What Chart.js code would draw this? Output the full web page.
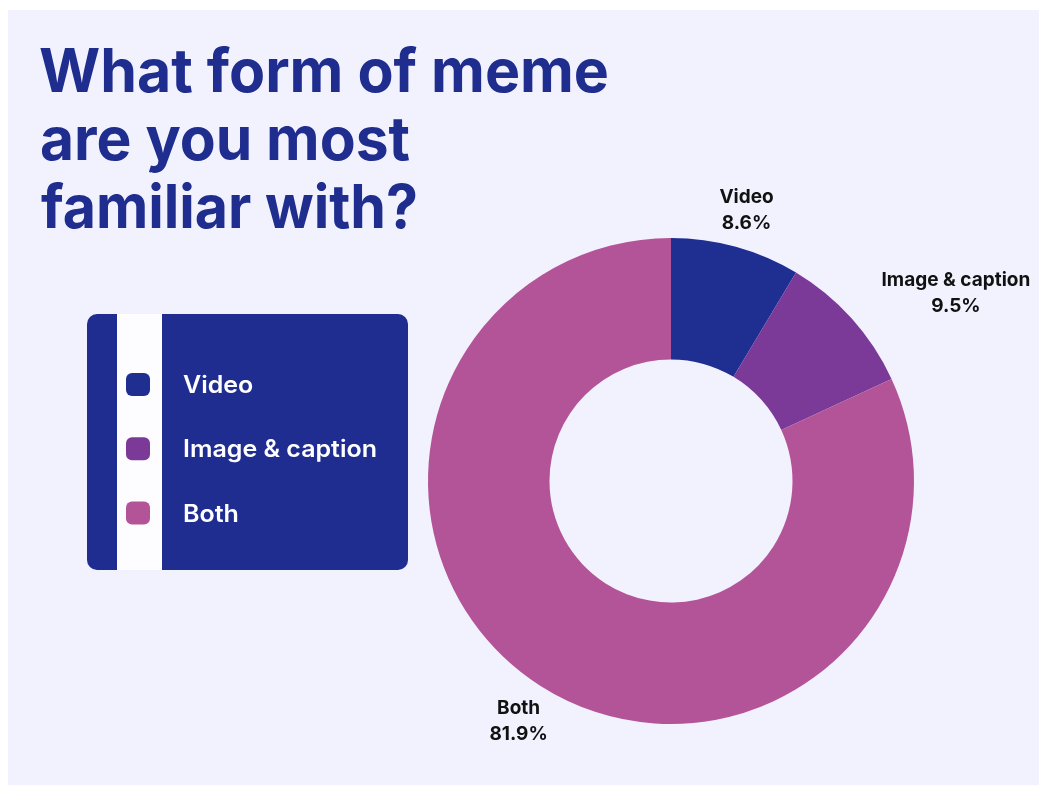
<!DOCTYPE html>
<html>
<head>
<meta charset="utf-8">
<script src="https://cdn.jsdelivr.net/npm/chart.js@4.4.1/dist/chart.umd.min.js"></script>
<style>
  html, body { margin: 0; padding: 0; background: #ffffff; }
  #wrap { position: relative; width: 1040px; height: 785px; }
  canvas { display: block; }
</style>
</head>
<body>
<div id="wrap"><canvas id="meme" width="1040" height="785"></canvas></div>
<script>
// Survey answers: which form of meme people know best
const categories = ['Video', 'Image & caption', 'Both'];
const shares = [8.6, 9.5, 81.9];
const sliceColors = ['#1f2e91', '#7b3a98', '#b45498'];
const titleLines = ['What form of meme', 'are you most', 'familiar with?'];

const INK = '#1f2d8f';
const PANEL = '#f2f2fe';

// Headline layout: left edge, baseline and span of each line
const titleLayout = [
  { x: 39, y: 92, w: 570 },
  { x: 40, y: 160, w: 370 },
  { x: 41, y: 228, w: 377 }
];

// Draws text squeezed/stretched horizontally so that it spans `width` pixels
function fillFitted(ctx, text, x, y, width) {
  const w = ctx.measureText(text).width;
  ctx.save();
  ctx.translate(x, y);
  ctx.scale(width / w, 1);
  ctx.fillText(text, 0, 0);
  ctx.restore();
}

// Page background, headline and the side legend card
const backdrop = {
  id: 'backdrop',
  beforeDraw(chart) {
    const ctx = chart.ctx;
    ctx.save();
    ctx.fillStyle = '#ffffff';
    ctx.fillRect(0, 0, chart.width, chart.height);
    ctx.fillStyle = PANEL;
    ctx.fillRect(8, 10, 1031, 775);

    // headline
    ctx.fillStyle = INK;
    ctx.textBaseline = 'alphabetic';
    ctx.textAlign = 'left';
    ctx.font = '700 60px Inter';
    titleLines.forEach((line, i) => {
      const L = titleLayout[i];
      fillFitted(ctx, line, L.x, L.y, L.w);
    });

    // legend card
    const bx = 87, by = 314, bw = 321, bh = 256;
    ctx.fillStyle = '#1f2d91';
    ctx.beginPath();
    ctx.roundRect(bx, by, bw, bh, 10);
    ctx.fill();
    ctx.fillStyle = '#fdfdff';
    ctx.fillRect(117, by, 45, bh);

    ctx.font = '600 24px Inter';
    const widest = ctx.measureText('Image & caption').width;
    const lx = 194 / widest;
    categories.forEach((name, i) => {
      const cy = 384.5 + i * 64.3;
      ctx.fillStyle = sliceColors[i];
      ctx.beginPath();
      ctx.roundRect(126, cy - 11.5, 24, 23, 6);
      ctx.fill();
      ctx.fillStyle = '#ffffff';
      ctx.save();
      ctx.translate(183, cy + 8.5);
      ctx.scale(lx, 1);
      ctx.fillText(name, 0, 0);
      ctx.restore();
    });
    ctx.restore();
  }
};

// Name and share printed outside each slice
const outsideLabels = {
  id: 'outsideLabels',
  afterDatasetsDraw(chart) {
    const ctx = chart.ctx;
    const meta = chart.getDatasetMeta(0);
    ctx.save();
    ctx.fillStyle = '#111111';
    ctx.font = '700 19px Inter';
    ctx.textBaseline = 'alphabetic';
    ctx.textAlign = 'center';
    meta.data.forEach((arc, i) => {
      const p = arc.getProps(['x', 'y', 'startAngle', 'endAngle', 'outerRadius'], true);
      const mid = (p.startAngle + p.endAngle) / 2;
      const r = p.outerRadius + 40;
      const ax = p.x + Math.cos(mid) * r;
      const ay = p.y + Math.sin(mid) * r;
      const l1 = categories[i];
      const l2 = shares[i].toFixed(1) + '%';
      const w = Math.max(ctx.measureText(l1).width, ctx.measureText(l2).width);
      let cx = ax;
      if (Math.abs(Math.cos(mid)) > 0.6) cx = ax + Math.sign(Math.cos(mid)) * w / 2;
      ctx.fillText(l1, cx, ay - 5.5);
      ctx.fillText(l2, cx, ay + 20.5);
    });
    ctx.restore();
  }
};

new Chart(document.getElementById('meme'), {
  type: 'doughnut',
  data: {
    labels: categories,
    datasets: [{
      data: shares,
      backgroundColor: sliceColors,
      borderWidth: 0,
      hoverOffset: 0
    }]
  },
  options: {
    responsive: false,
    animation: false,
    devicePixelRatio: 1,
    cutout: '50%',
    layout: { padding: { left: 428, right: 126, top: 238, bottom: 61 } },
    plugins: {
      legend: { display: false },
      tooltip: { enabled: false }
    }
  },
  plugins: [backdrop, outsideLabels]
});
</script>
</body>
</html>
